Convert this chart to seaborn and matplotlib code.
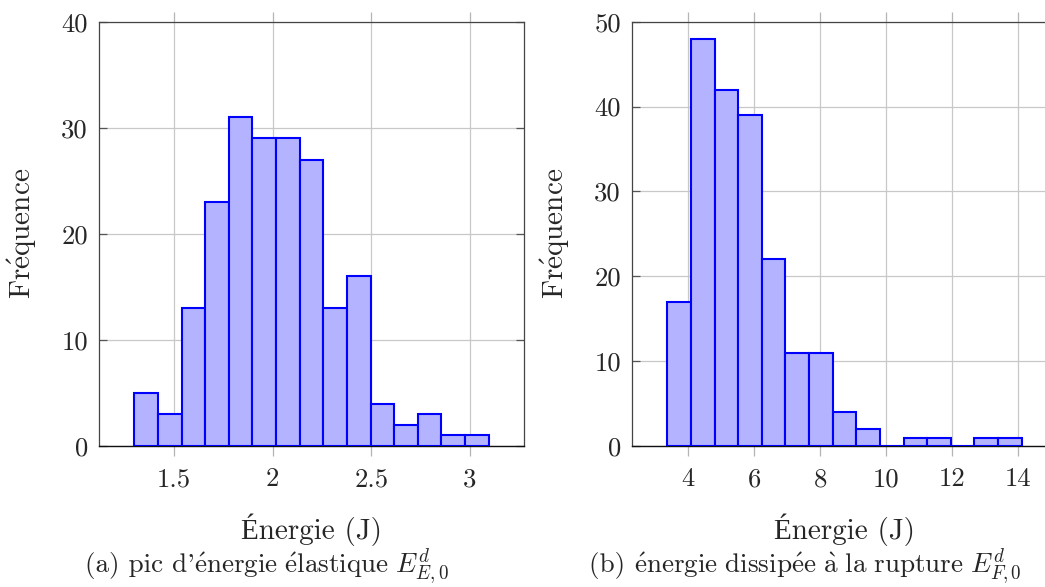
import numpy as np
import pandas as pd
import matplotlib
matplotlib.use("Agg")
import matplotlib.pyplot as plt
import seaborn as sns

# ---------------- data ----------------
counts_a = [5, 3, 13, 23, 31, 29, 29, 27, 13, 16, 4, 2, 3, 1, 1]
range_a = (1.298, 3.095)          # first / last bin edge (J)
counts_b = [17, 48, 42, 39, 22, 11, 11, 4, 2, 0, 1, 1, 0, 1, 1]
range_b = (3.364, 14.10)          # first / last bin edge (J)
xticks_a = [1.5, 2, 2.5, 3]
xticks_b = [4, 6, 8, 10, 12, 14]
yticks_a = [0, 10, 20, 30, 40]
yticks_b = [0, 10, 20, 30, 40, 50]
xlabel = "Énergie (J)"
ylabel = r"$\mathrm{Fr\acute{e}quence}$"          # Fréquence
caption_a = ["(a) pic d'",
             r"$\mathrm{\acute{e}nergie\ \acute{e}lastique}\ E^{d}_{E,0}$"]
caption_b = ["(b) ",
             r"$\mathrm{\acute{e}nergie\ dissip\acute{e}e\ \grave{a}\ la\ rupture}\ E^{d}_{F,0}$"]

# ---------------- style ----------------
sns.set_style("white")
plt.rcParams["font.family"] = ["cmr10", "Liberation Serif"]
plt.rcParams["mathtext.fontset"] = "cm"
plt.rcParams["axes.formatter.use_mathtext"] = True
plt.rcParams["axes.unicode_minus"] = False

FACE = "#b3b3ff"
EDGE = "#0000ff"
TFS = 19.2     # tick labels
LFS = 21.0     # axis labels
CFS = 19.5     # captions

fig = plt.figure(figsize=(10.45, 5.87), dpi=100)
W, H = 1045, 587
ax_a = fig.add_axes([99 / W, (H - 446) / H, 425 / W, 424.3 / H])
ax_b = fig.add_axes([632 / W, (H - 446) / H, 425 / W, 424.3 / H])

captions = []


def draw(ax, counts, rng, xticks, yticks, ymax, caption, cap_x):
    counts = [float(c) for c in counts]
    edges = np.linspace(rng[0], rng[1], len(counts) + 1)
    centers = 0.5 * (edges[:-1] + edges[1:])
    df = pd.DataFrame({"E": centers, "n": counts})
    sns.histplot(data=df, x="E", weights="n", bins=list(edges), ax=ax,
                 color=FACE, edgecolor=EDGE, linewidth=1.5, alpha=1.0,
                 zorder=3)
    span = rng[1] - rng[0]
    ax.set_xlim(rng[0] - 0.1 * span, rng[1] + 0.1 * span)
    ax.set_ylim(0, ymax)
    ax.set_xticks(xticks)
    ax.set_xticklabels([f"{t:g}" for t in xticks])
    ax.set_yticks(yticks)
    ax.set_yticklabels([f"{t:g}" for t in yticks])
    ax.grid(True, color="#c8c8c8", linewidth=0.9, zorder=0)
    ax.set_axisbelow(True)
    ax.tick_params(axis="x", which="major", direction="out", length=7.5,
                   width=0.9, color="#b5b5b5", top=True, bottom=True,
                   labeltop=False, labelsize=TFS, pad=8)
    ax.tick_params(axis="y", which="major", direction="in", length=6,
                   width=0.9, color="#555555", left=True, right=True,
                   labelsize=TFS, pad=8)
    for s in ["left", "top", "right"]:
        ax.spines[s].set_color("#444444")
        ax.spines[s].set_linewidth(0.9)
    ax.spines["bottom"].set_color("#111111")
    ax.spines["bottom"].set_linewidth(1.0)
    ax.set_xlabel(xlabel, fontsize=LFS, labelpad=16)
    ax.set_ylabel(ylabel, fontsize=LFS)
    ax.yaxis.set_label_coords(-0.141, 0.5)
    yb = 1 - 572 / H
    parts = [fig.text(0, yb, p, fontsize=CFS, ha="left", va="baseline")
             for p in caption]
    captions.append((parts, cap_x))


draw(ax_a, counts_a, range_a, xticks_a, yticks_a, 40, caption_a, 267)
draw(ax_b, counts_b, range_b, xticks_b, yticks_b, 50, caption_b, 805)

fig.canvas.draw()
r = fig.canvas.get_renderer()
for parts, cx in captions:
    widths = [p.get_window_extent(r).width for p in parts]
    x = cx - sum(widths) / 2
    for p, w in zip(parts, widths):
        p.set_x(x / W)
        x += w

fig.savefig("out.png", dpi=100)
